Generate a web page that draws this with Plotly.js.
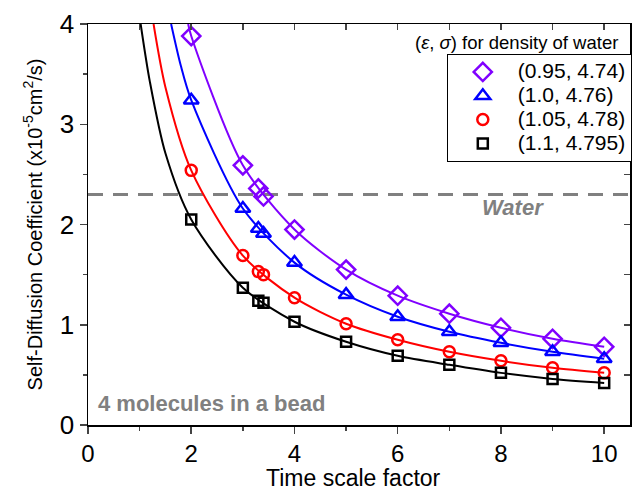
<!DOCTYPE html>
<html><head><meta charset="utf-8">
<script src="https://cdn.plot.ly/plotly-3.0.1.min.js"></script>
<style>html,body{margin:0;padding:0;background:#fff}#plot{width:636px;height:491px}</style>
</head><body><div id="plot"></div>
<script>
// Measured points
const timeScale = [2, 3, 3.3, 3.4, 4, 5, 6, 7, 8, 9, 10];
const seriesNames = ['(0.95, 4.74)', '(1.0, 4.76)', '(1.05, 4.78)', '(1.1, 4.795)'];
const dPurple = [3.88, 2.59, 2.36, 2.28, 1.95, 1.55, 1.29, 1.11, 0.97, 0.86, 0.78];
const dBlue   = [3.24, 2.16, 1.96, 1.91, 1.62, 1.30, 1.08, 0.93, 0.82, 0.73, 0.66];
const dRed    = [2.54, 1.69, 1.53, 1.50, 1.27, 1.01, 0.85, 0.73, 0.64, 0.57, 0.52];
const dBlack  = [2.05, 1.37, 1.24, 1.22, 1.03, 0.83, 0.69, 0.60, 0.52, 0.46, 0.42];
// Fitted curves
const fitXPurple = [1.94, 2, 3, 4, 5, 6, 7, 8, 9, 10];
const fitYPurple = [4.0, 3.88, 2.59, 1.95, 1.55, 1.29, 1.11, 0.97, 0.86, 0.78];
const fitXBlue = [1.61, 1.8, 2, 3, 4, 5, 6, 7, 8, 9, 10];
const fitYBlue = [4.0, 3.58, 3.24, 2.16, 1.62, 1.30, 1.08, 0.93, 0.82, 0.73, 0.66];
const fitXRed = [1.27, 1.5, 2, 3, 4, 5, 6, 7, 8, 9, 10];
const fitYRed = [4.0, 3.37, 2.54, 1.69, 1.27, 1.01, 0.85, 0.73, 0.64, 0.57, 0.52];
const fitXBlack = [1.02, 1.2, 1.5, 2, 3, 4, 5, 6, 7, 8, 9, 10];
const fitYBlack = [4.0, 3.42, 2.71, 2.05, 1.37, 1.03, 0.83, 0.69, 0.60, 0.52, 0.46, 0.42];
const waterValue = 2.3;
const xRange = [0, 10.5];
const yRange = [0, 4];
const xTitle = 'Time scale factor';
const yTitle = 'Self-Diffusion Coefficient (x10<sup>-5</sup>cm<sup>2</sup>/s)';

const colors = ['#8000FF', '#0000FF', '#FF0000', '#000000'];
const symbols = ['diamond-open', 'triangle-up-open', 'circle-open', 'square-open'];
const sizes = [14, 13, 11, 10];
const dataY = [dPurple, dBlue, dRed, dBlack];
const fitX = [fitXPurple, fitXBlue, fitXRed, fitXBlack];
const fitY = [fitYPurple, fitYBlue, fitYRed, fitYBlack];

const traces = [];
traces.push({x: xRange, y: [waterValue, waterValue], mode: 'lines', showlegend: false,
  line: {color: '#808080', width: 3, dash: '15px,10px'}, hoverinfo: 'skip'});
for (let i = 0; i < 4; i++) {
  traces.push({x: fitX[i], y: fitY[i], mode: 'lines', showlegend: false,
    line: {color: colors[i], width: 2, shape: 'spline', smoothing: 0.8}});
}
for (let i = 0; i < 4; i++) {
  traces.push({x: timeScale, y: dataY[i], mode: 'markers',
    name: '<span style="font-size:21px">' + seriesNames[i] + '</span>',
    marker: {symbol: symbols[i], size: sizes[i], color: colors[i], line: {width: 2.5, color: colors[i]}}});
}
traces.push({x: [null], y: [null], xaxis: 'x2', yaxis: 'y', showlegend: false, hoverinfo: 'skip'});
traces.push({x: [null], y: [null], xaxis: 'x', yaxis: 'y2', showlegend: false, hoverinfo: 'skip'});

const font = 'Arial, "Liberation Sans", sans-serif';
const layout = {
  width: 636, height: 491,
  margin: {l: 88, r: 4, t: 24, b: 66},
  paper_bgcolor: '#fff', plot_bgcolor: '#fff',
  font: {family: font, color: '#000'},
  xaxis: {range: xRange, dtick: 2, tick0: 0, ticks: 'outside', ticklen: 7, tickwidth: 1.5,
    minor: {dtick: 1, ticks: 'outside', ticklen: 4, tickwidth: 1.5},
    showline: true, linewidth: 1.5, linecolor: '#000', mirror: true, showgrid: false, zeroline: false,
    tickfont: {size: 24}},
  yaxis: {range: yRange, dtick: 1, tick0: 0, ticks: 'outside', ticklen: 7, tickwidth: 1.5,
    minor: {dtick: 0.5, ticks: 'outside', ticklen: 4, tickwidth: 1.5},
    showline: true, linewidth: 1.5, linecolor: '#000', mirror: true, showgrid: false, zeroline: false,
    tickfont: {size: 26}, title: {text: yTitle, font: {size: 20}, standoff: 12}},
  xaxis2: {overlaying: 'x', side: 'top', anchor: 'y', range: xRange, dtick: 1, tick0: 0, ticks: 'inside', ticklen: 6, tickwidth: 1.5,
    showticklabels: false, showgrid: false, zeroline: false, showline: false},
  yaxis2: {overlaying: 'y', side: 'right', anchor: 'x', range: yRange, dtick: 0.5, tick0: 0, ticks: 'inside', ticklen: 6, tickwidth: 1.5,
    showticklabels: false, showgrid: false, zeroline: false, showline: false},
  legend: {x: 0.662, y: 0.925, xanchor: 'left', yanchor: 'top', bordercolor: '#000', borderwidth: 1,
    bgcolor: '#fff', font: {size: 16}, tracegroupgap: 0, itemwidth: 60},
  annotations: [
    {xref: 'paper', yref: 'paper', x: 0.49, y: -0.096, xanchor: 'center', yanchor: 'top', showarrow: false,
      text: xTitle, font: {size: 23, color: '#000'}},
    {xref: 'paper', yref: 'paper', x: 0.982, y: 0.955, xanchor: 'right', yanchor: 'middle', showarrow: false,
      text: '(<i>ε</i>, <i>σ</i>) for density of water', font: {size: 18.5, color: '#000'}},
    {x: 8.23, y: 2.17, xref: 'x', yref: 'y', showarrow: false, text: '<b><i>Water</i></b>',
      font: {size: 22, color: '#808080'}},
    {x: 0.15, y: 0.21, xref: 'x', yref: 'y', xanchor: 'left', showarrow: false, text: '<b>4 molecules in a bead</b>',
      font: {size: 22, color: '#808080'}}
  ],
  showlegend: true
};
Plotly.newPlot('plot', traces, layout, {displayModeBar: false, staticPlot: true});
</script></body></html>
